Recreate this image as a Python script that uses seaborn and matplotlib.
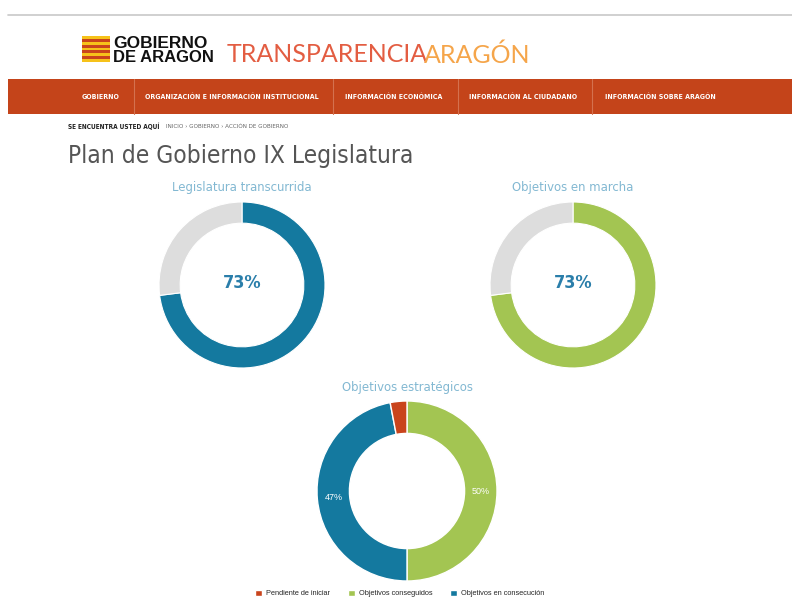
import matplotlib
matplotlib.use("Agg")
import matplotlib.pyplot as plt
import matplotlib.patches as mpatches
import seaborn as sns

# data
nav_items = ["GOBIERNO", "ORGANIZACIÓN E INFORMACIÓN INSTITUCIONAL", "INFORMACIÓN ECONÓMICA",
             "INFORMACIÓN AL CIUDADANO", "INFORMACIÓN SOBRE ARAGÓN"]
legislatura = [73, 27]
en_marcha = [73, 27]
estrat_labels = ["Objetivos conseguidos", "Objetivos en consecución", "Pendiente de iniciar"]
estrat_values = [50, 47, 3]

BLUE = "#14799f"
GREEN = "#a3c552"
RED = "#c9441c"
GREY = "#dddddd"
NAV = "#c4441a"
TITLE_BLUE = "#82b8d2"

sns.set_theme(style="white")
plt.rcParams["font.family"] = ["DejaVu Sans"]
plt.rcParams["font.stretch"] = "condensed"

W, H = 792, 598
fig = plt.figure(figsize=(W / 100, H / 100), dpi=100)
fig.patch.set_facecolor("white")

ARIAL = ["Liberation Sans", "DejaVu Sans"]


def fx(x):
    return x / W


def fy(y):
    return 1 - y / H


def txt(x, y, s, **kw):
    fig.text(fx(x), fy(y), s, **kw)


# top rule
fig.add_artist(plt.Line2D([fx(8), 1], [fy(15), fy(15)], color="#c8c8c8", lw=1.2))

# logo flag
flag_ax = fig.add_axes([fx(82), fy(62), (110 - 82) / W, (62 - 36) / H])
flag_ax.set_xlim(0, 1)
flag_ax.set_ylim(0, 9)
flag_ax.axis("off")
for i in range(9):
    flag_ax.add_patch(mpatches.Rectangle((0, i), 1, 1, color=RED if i % 2 else "#f6c21a", lw=0))

txt(113, 48, "GOBIERNO", fontsize=12.5, fontweight="bold", color="#111111", va="baseline",
    family=ARIAL, fontstretch="normal")
txt(113, 62, "DE ARAGON", fontsize=12, fontweight="bold", color="#111111", va="baseline",
    family=ARIAL, fontstretch="normal")
txt(227, 55, "TRANSPARENCIA", fontsize=18, color="#e35d42", va="center",
    family=["Lato", "DejaVu Sans"], fontstretch="normal")
txt(424, 55, "ARAGÓN", fontsize=18, color="#f5a54a", va="center",
    family=["Lato", "DejaVu Sans"], fontstretch="normal")

# nav bar
fig.add_artist(mpatches.Rectangle((fx(8), fy(114)), 1 - fx(8), (114 - 79) / H,
                                  transform=fig.transFigure, color=NAV, lw=0))
for sx in [134, 333, 458, 592]:
    fig.add_artist(plt.Line2D([fx(sx), fx(sx)], [fy(114), fy(79)], color="#d4714f", lw=0.8))
for cx, item in zip([101, 232, 394, 523, 660], nav_items):
    txt(cx, 97, item, fontsize=5.0, color="white", ha="center", va="center", fontweight="bold")

# breadcrumb
txt(68, 126, "SE ENCUENTRA USTED AQUÍ", fontsize=4.7, fontweight="bold", color="#222222", va="center")
txt(166, 126, "INICIO › GOBIERNO › ACCIÓN DE GOBIERNO", fontsize=4.5, color="#666666", va="center")

# page title
txt(68, 156, "Plan de Gobierno IX Legislatura", fontsize=17.6, color="#555555", va="center")


def donut_ax(cx, cy, r):
    ax = fig.add_axes([fx(cx - r), fy(cy + r), 2 * r / W, 2 * r / H])
    ax.axis("off")
    return ax


def small_donut(cx, cy, values, color, title):
    ax = donut_ax(cx, cy, 83)
    ax.pie(values, colors=[color, GREY], startangle=90, counterclock=False,
           wedgeprops=dict(width=0.255, edgecolor="white", linewidth=0.8))
    ax.set_xlim(-1, 1)
    ax.set_ylim(-1, 1)
    ax.text(0, 0.03, f"{values[0]}%", ha="center", va="center", fontsize=13,
            fontweight="bold", color="#2a7eaa")
    txt(cx, 187, title, fontsize=9.4, color=TITLE_BLUE, ha="center", va="center")


small_donut(242, 285, legislatura, BLUE, "Legislatura transcurrida")
small_donut(573, 285, en_marcha, GREEN, "Objetivos en marcha")

# strategic objectives
ax3 = donut_ax(407, 491, 90)
wedges, _, autotexts = ax3.pie(
    estrat_values, colors=[GREEN, BLUE, RED], startangle=90, counterclock=False,
    autopct=lambda p: f"{p:.0f}%" if p > 5 else "", pctdistance=0.82,
    wedgeprops=dict(width=0.36, edgecolor="white", linewidth=1),
    textprops=dict(color="white", fontsize=6.5, family=ARIAL, fontstretch="normal"))
ax3.set_xlim(-1, 1)
ax3.set_ylim(-1, 1)
txt(407, 387, "Objetivos estratégicos", fontsize=9.4, color=TITLE_BLUE, ha="center", va="center")

order = [2, 0, 1]
fig.legend([wedges[i] for i in order], [estrat_labels[i] for i in order],
           loc="center", bbox_to_anchor=(fx(400), fy(593.5)), ncol=3, frameon=False,
           prop=dict(family=ARIAL, size=5.3, stretch="normal"),
           handlelength=0.9, handleheight=0.9, handletextpad=0.6,
           columnspacing=2.4, borderpad=0, borderaxespad=0)

fig.savefig("out.png", dpi=100, facecolor="white")
